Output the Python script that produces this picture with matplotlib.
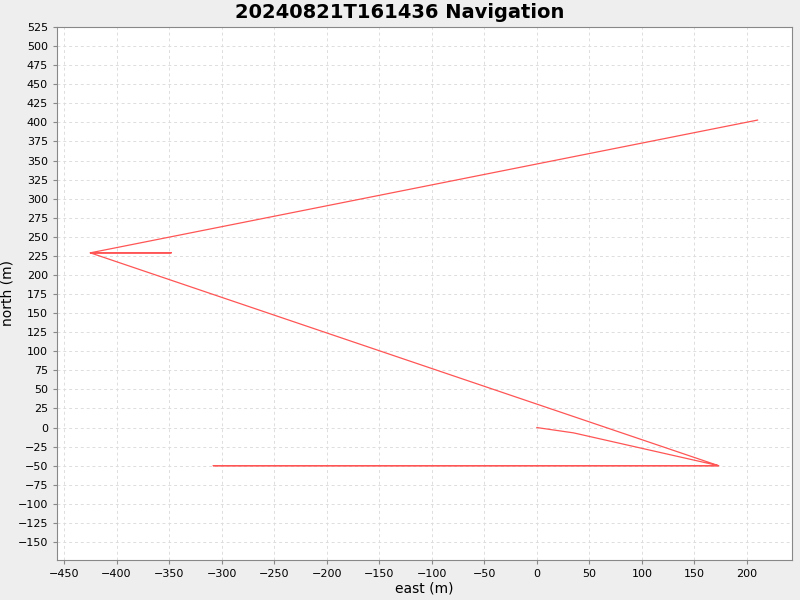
import matplotlib
matplotlib.use("Agg")
import matplotlib.pyplot as plt
import numpy as np

east = [0, 35, 173, -308, 173, -425, -348, -425, 210]
north = [0, -7, -50, -50, -50, 229, 229, 229, 403]
xticks = list(range(-450, 201, 50))
yticks = list(range(-150, 526, 25))

fig = plt.figure(figsize=(8, 6), dpi=100, facecolor="#eeeeee")
ax = fig.add_axes([57/800, 40/600, 735/800, 533/600])
ax.set_facecolor("white")
ax.plot(east, north, color="#ff5555", lw=0.9)
ax.set_xlim(-456.7, 242.8)
ax.set_ylim(-173.6, 525)
ax.set_xticks(xticks)
ax.set_yticks(yticks)
ax.tick_params(labelsize=8, length=3, color="#888888")
ax.grid(True, color="#dddddd", linestyle=(0, (3, 3)), lw=0.7)
for s in ax.spines.values():
    s.set_color("#888888"); s.set_linewidth(0.8)
ax.set_xlabel("east (m)", fontsize=10, labelpad=2)
ax.set_ylabel("north (m)", fontsize=10, labelpad=2)
fig.text(0.5, 0.98, "20240821T161436 Navigation", ha="center", va="center",
         fontsize=14, fontweight="bold")
fig.savefig("out.png", dpi=100, facecolor=fig.get_facecolor())
